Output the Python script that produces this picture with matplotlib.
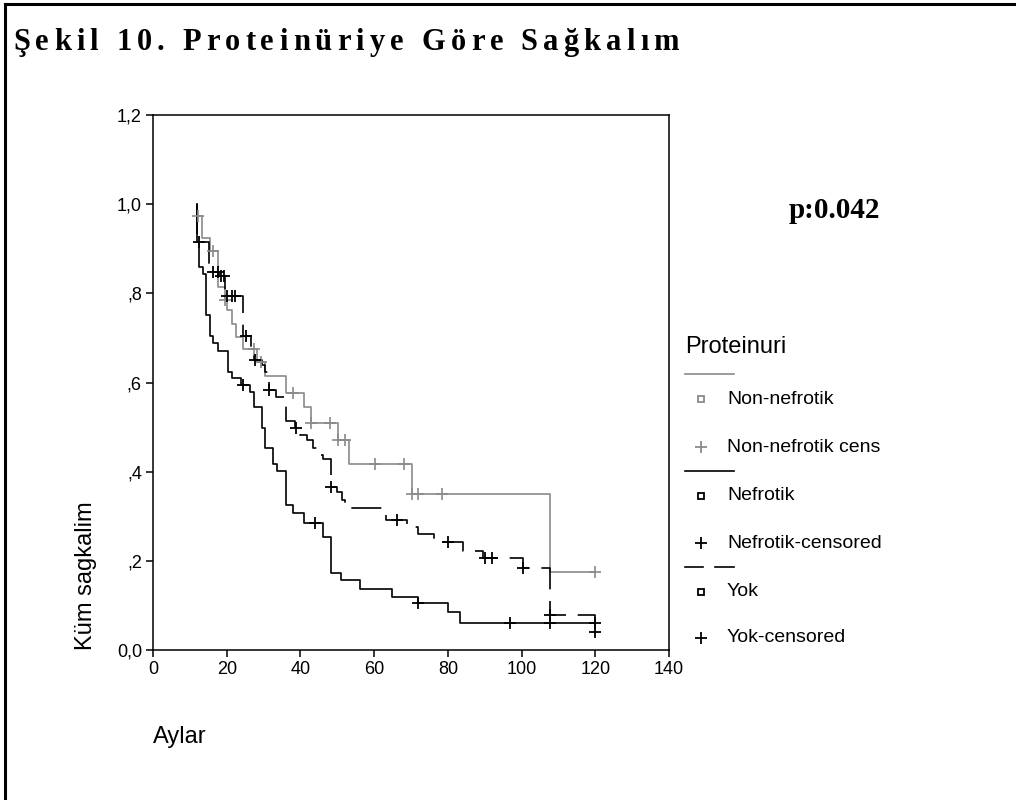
import matplotlib
matplotlib.use("Agg")
import matplotlib.pyplot as plt
from matplotlib.lines import Line2D
from matplotlib.font_manager import FontProperties
from matplotlib.textpath import text_to_path

GRAY = "#8a8a8a"; INK = "#000000"
plt.rcParams.update({"font.family": "Liberation Sans", "font.size": 13,
                     "axes.linewidth": 1.1, "xtick.major.width": 1.1,
                     "ytick.major.width": 1.1})

# ---- Kaplan-Meier steps (months, cumulative survival) ----
non_t = [12.0, 12.0, 13.2, 15.5, 17.5, 19.5, 20.2, 21.3, 22.5, 24.3, 28.1, 30.4,
         36.0, 41.0, 43.0, 50.2, 53.1, 70.3, 107.7, 120.0]
non_s = [1.0, 0.974, 0.923, 0.895, 0.815, 0.785, 0.762, 0.732, 0.702, 0.676, 0.646,
         0.614, 0.577, 0.546, 0.510, 0.471, 0.417, 0.350, 0.176, 0.176]
non_ct = [12.3, 16.2, 19.6, 27.5, 29.3, 38.1, 43.0, 48.0, 50.2, 52.1, 60.2, 68.1,
          70.3, 72.0, 78.3, 119.9]
non_cs = [0.974, 0.895, 0.785, 0.676, 0.646, 0.577, 0.510, 0.510, 0.471, 0.471,
          0.417, 0.417, 0.350, 0.350, 0.350, 0.176]

nef_t = [12.0, 12.0, 12.5, 13.5, 14.3, 15.5, 16.2, 17.5, 20.4, 21.3, 24.0, 26.3, 27.4,
         29.5, 30.4, 32.6, 33.6, 36.0, 38.1, 41.0, 46.2, 48.2, 50.9, 56.1, 64.9, 72.0,
         80.1, 83.2, 120.0]
nef_s = [1.0, 0.915, 0.859, 0.843, 0.751, 0.705, 0.688, 0.671, 0.624, 0.609, 0.594,
         0.579, 0.546, 0.497, 0.452, 0.417, 0.402, 0.325, 0.307, 0.284, 0.254, 0.172,
         0.157, 0.136, 0.120, 0.105, 0.085, 0.060, 0.060]
nef_ct = [24.5, 44.0, 72.0, 96.9, 107.7, 119.9]
nef_cs = [0.594, 0.284, 0.105, 0.060, 0.060, 0.060]

yok_t = [12.0, 12.0, 15.3, 18.0, 19.5, 24.5, 26.5, 27.5, 29.5, 30.4, 31.6, 33.4, 36.0,
         38.5, 39.9, 41.7, 43.3, 45.3, 46.2, 48.2, 49.8, 51.2, 52.1, 62.0, 63.2, 69.0,
         72.0, 76.2, 84.0, 89.4, 100.3, 107.7, 119.9]
yok_s = [1.0, 0.915, 0.848, 0.840, 0.795, 0.704, 0.676, 0.650, 0.639, 0.624, 0.583,
         0.568, 0.513, 0.497, 0.482, 0.471, 0.452, 0.437, 0.428, 0.366, 0.355, 0.336,
         0.318, 0.307, 0.292, 0.276, 0.260, 0.243, 0.223, 0.207, 0.183, 0.079, 0.041]
yok_ct = [12.5, 16.4, 17.5, 18.4, 19.2, 20.2, 21.3, 22.2, 25.2, 27.7, 31.6, 38.8,
          48.2, 66.1, 80.1, 90.0, 91.9, 100.3, 107.7, 119.9]
yok_cs = [0.915, 0.848, 0.848, 0.840, 0.840, 0.795, 0.795, 0.795, 0.704, 0.650,
          0.583, 0.497, 0.366, 0.292, 0.243, 0.207, 0.207, 0.183, 0.079, 0.041]

xticks = [0, 20, 40, 60, 80, 100, 120, 140]
yticks = [0.0, 0.2, 0.4, 0.6, 0.8, 1.0, 1.2]
ytick_labels = ["0,0", ",2", ",4", ",6", ",8", "1,0", "1,2"]

W, H = 1016, 800
fig = plt.figure(figsize=(W / 100, H / 100), dpi=100)
fx = lambda x: x / W
fy = lambda y: 1 - y / H

ax = fig.add_axes([fx(153), fy(650), fx(669) - fx(153), fy(115) - fy(650)])
ax.step(non_t, non_s, where="post", color=GRAY, lw=1.2, zorder=2)
ax.step(nef_t, nef_s, where="post", color=INK, lw=1.2, zorder=3)
ax.step(yok_t, yok_s, where="post", color=INK, lw=1.2, ls=(0, (18, 7)), zorder=3)
ax.plot(non_ct, non_cs, "+", color=GRAY, ms=9, mew=1.2, zorder=4)
ax.plot(nef_ct, nef_cs, "+", color=INK, ms=9, mew=1.3, zorder=4)
ax.plot(yok_ct, yok_cs, "+", color=INK, ms=9, mew=1.3, zorder=4)

ax.set_xlim(0, 140); ax.set_ylim(0, 1.2)
ax.set_xticks(xticks)
ax.set_yticks(yticks, ytick_labels)
ax.tick_params(direction="out", length=5, pad=3, labelsize=13)

fig.text(fx(86), fy(650), "Küm sagkalim", rotation=90, ha="center", va="bottom", fontsize=17)
fig.text(fx(153), fy(737), "Aylar", ha="left", va="center", fontsize=17)

# title set letter by letter with extra tracking, like the original print
title = "Şekil 10. Proteinüriye Göre Sağkalım"
tprop = FontProperties(family="Liberation Serif", weight="bold", size=22)
x0, x1 = 13.0, 679.0
pref = [text_to_path.get_text_width_height_descent(title[:i], tprop, ismath=False)[0] * 100 / 72
        if i else 0.0 for i in range(len(title) + 1)]
track = ((x1 - x0) - pref[-1]) / (len(title) - 1)
for i, ch in enumerate(title):
    if ch != " ":
        fig.text(fx(x0 + pref[i] + i * track), fy(50), ch, ha="left", va="baseline",
                 fontproperties=tprop)

fig.text(fx(834), fy(210), "p:0.042", ha="center", va="center", fontsize=21,
         fontweight="bold", family="Liberation Serif")

# ---- hand-built legend in SPSS style ----
fig.text(fx(685), fy(347), "Proteinuri", ha="left", va="center", fontsize=17)
items = [
    ("line", 374, GRAY, "-"),
    ("s", 399, GRAY, "Non-nefrotik"),
    ("+", 447, GRAY, "Non-nefrotik cens"),
    ("line", 471, INK, "-"),
    ("s", 496, INK, "Nefrotik"),
    ("+", 543, INK, "Nefrotik-censored"),
    ("line", 567, INK, "--"),
    ("s", 592, INK, "Yok"),
    ("+", 638, INK, "Yok-censored"),
]
for kind, y, col, txt in items:
    if kind == "line":
        segs = [(685, 734)] if txt == "-" else [(685, 703), (715, 734)]
        for a, b in segs:
            fig.add_artist(Line2D([fx(a), fx(b)], [fy(y), fy(y)], color=col, lw=1.2))
    else:
        ms = 5 if kind == "s" else 9
        fig.add_artist(Line2D([fx(701)], [fy(y)], marker=kind, ms=ms, mfc="none",
                              mec=col, mew=1.3, ls="none"))
        fig.text(fx(727), fy(y), txt, ha="left", va="center", fontsize=14)

# page frame: top and left rules only
fig.add_artist(Line2D([fx(5), 1], [fy(4), fy(4)], color=INK, lw=2.2))
fig.add_artist(Line2D([fx(5), fx(5)], [fy(4), 0], color=INK, lw=2.2))

fig.savefig("out.png", dpi=100)
